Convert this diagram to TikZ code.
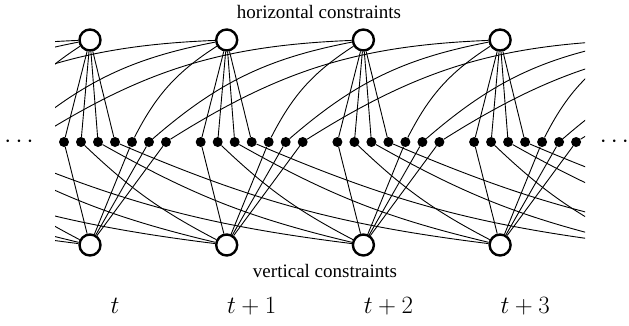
\documentclass[tikz,border=0pt]{standalone}
\usepackage{fontspec}
\setmainfont{Liberation Serif}
\pgfdeclarelayer{links}
\pgfsetlayers{links,main}
\begin{document}
\begin{tikzpicture}[x=1pt,y=-1pt,
  cnode/.style={circle,draw,fill=white,line width=2.4pt,minimum size=21pt,inner sep=0pt},
  vdot/.style={circle,fill,minimum size=10pt,inner sep=0pt},
  link/.style={line width=0.9pt},
  lbl/.style={font=\fontsize{19}{22}\selectfont,anchor=base,inner sep=0pt},
  tlbl/.style={font=\fontsize{25}{30}\selectfont,anchor=base,inner sep=0pt}]
\useasboundingbox (0,0) rectangle (629,325);

% constraint nodes and variables; index 3 is time t
\begin{scope}
  \clip (55,0) rectangle (585,325);
  \foreach \k in {0,...,9} {
    \pgfmathsetmacro\cx{90+136.7*(\k-3)}
    \node[cnode] (T\k) at (\cx,40) {};
    \node[cnode] (B\k) at (\cx,245) {};
    \foreach \i in {1,...,7} {
      \pgfmathsetmacro\dx{64+136.7*(\k-3)+17*(\i-1)}
      \node[vdot] (d\k-\i) at (\dx,142) {};
    }
  }
\end{scope}

% connections
\begin{pgfonlayer}{links}
  \clip (55,0) rectangle (585,325);
  \foreach \k in {0,...,9} {
    \foreach \i in {1,...,4} \draw[link] (T\k) -- (d\k-\i);
    \foreach \i in {1,5,6,7} \draw[link] (B\k) -- (d\k-\i);
  }
  \foreach \k in {0,...,6} {
    \pgfmathtruncatemacro\ka{\k+1}
    \pgfmathtruncatemacro\kb{\k+2}
    \pgfmathtruncatemacro\kc{\k+3}
    \draw[link] (d\k-5) to[bend left=15] (T\ka);
    \draw[link] (d\k-6) to[bend left=15] (T\kb);
    \draw[link] (d\k-7) to[bend left=15] (T\kc);
    \draw[link] (d\k-2) to[bend right=8] (B\ka);
    \draw[link] (d\k-3) to[bend right=8] (B\kb);
    \draw[link] (d\k-4) to[bend right=8] (B\kc);
  }
\end{pgfonlayer}

% labels
\node[lbl] (hc) at (319,18.3) {horizontal constraints};
\node[lbl] (vc) at (325,277) {vertical constraints};
\node[tlbl] (l0) at (115,313) {$t$};
\node[tlbl] (l1) at (251.7,313) {$t+1$};
\node[tlbl] (l2) at (388.4,313) {$t+2$};
\node[tlbl] (l3) at (525.1,313) {$t+3$};
\node[tlbl] (dl) at (19,147.3) {$\cdots$};
\node[tlbl] (dr) at (614.4,147.3) {$\cdots$};
\end{tikzpicture}
\end{document}
